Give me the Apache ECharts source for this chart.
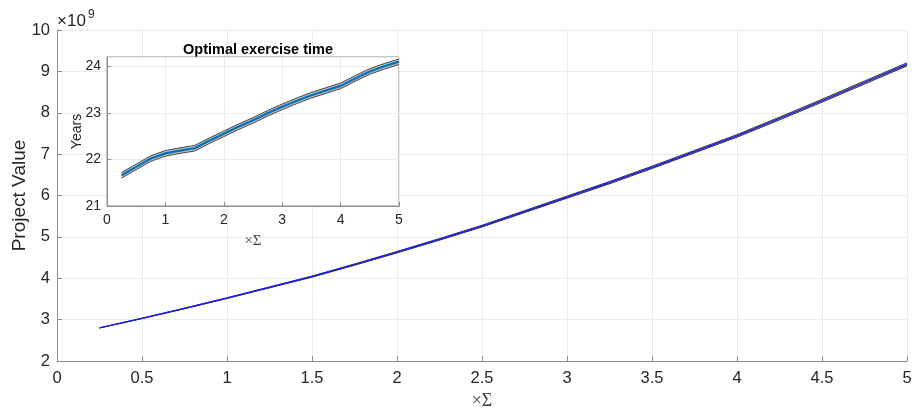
<!DOCTYPE html>
<html>
<head>
<meta charset="utf-8">
<script src="https://cdn.jsdelivr.net/npm/echarts@6/dist/echarts.min.js"></script>
<style>html,body{margin:0;padding:0;background:#fff;}#c{width:914px;height:409px;}</style>
</head>
<body>
<div id="c"></div>
<script>
// ---- data ----
var sigma = [0.25,0.5,0.75,1,1.25,1.5,1.75,2,2.25,2.5,2.75,3,3.25,3.5,3.75,4,4.25,4.5,4.75,5];
// Project value (×10^9)
var valueMean = [2.80,3.03,3.27,3.52,3.78,4.04,4.33,4.63,4.94,5.26,5.61,5.96,6.31,6.68,7.06,7.44,7.86,8.29,8.73,9.17];
var valueHalfBand = [0.004,0.006,0.008,0.010,0.012,0.014,0.016,0.018,0.020,0.022,0.024,0.026,0.028,0.029,0.030,0.032,0.034,0.035,0.037,0.038];
// Optimal exercise time (years)
var timeMean = [21.66,21.84,22.02,22.13,22.19,22.24,22.40,22.55,22.70,22.84,22.99,23.13,23.26,23.38,23.48,23.58,23.74,23.89,24.00,24.10];
var timeHalfBand = [0.06,0.06,0.06,0.06,0.06,0.06,0.06,0.06,0.06,0.06,0.06,0.06,0.06,0.06,0.06,0.06,0.06,0.06,0.06,0.06];
var insetYTicks = [21,22,23,24];

function pairs(xs, ys){ return xs.map(function(x,i){ return [x, ys[i]]; }); }
function shifted(m,h,s){ return m.map(function(v,i){ return v + s*h[i]; }); }

var FONT = 'Liberation Sans, Arial, sans-serif';
var SERIF = 'Liberation Serif, DejaVu Serif, serif';
var AX = '#262626';
var AXLINE = '#8c8c8c';
var GRID = '#ebebeb';

var chart = echarts.init(document.getElementById('c'), null, {renderer:'canvas'});

function bandSeries(xi, yi, m, h, edge, fill, z){
  var upper = shifted(m,h,1), lower = shifted(m,h,-1);
  return [{
    type:'custom', xAxisIndex:xi, yAxisIndex:yi, z:z, silent:true, animation:false,
    data:[[sigma[0], m[0]]],
    renderItem:function(params, api){
      var pts = [];
      for (var i=0;i<sigma.length;i++) pts.push(api.coord([sigma[i], upper[i]]));
      for (var j=sigma.length-1;j>=0;j--) pts.push(api.coord([sigma[j], lower[j]]));
      return {type:'polygon', shape:{points:pts}, style:{fill:fill, stroke:null}};
    }
  },{
    type:'line', xAxisIndex:xi, yAxisIndex:yi, data:pairs(sigma, upper), showSymbol:false, symbol:'none',
    lineStyle:{color:edge, width:1}, z:z, silent:true, animation:false
  },{
    type:'line', xAxisIndex:xi, yAxisIndex:yi, data:pairs(sigma, lower), showSymbol:false, symbol:'none',
    lineStyle:{color:edge, width:1}, z:z, silent:true, animation:false
  }];
}

var series = [];
series = series.concat(bandSeries(0,0,valueMean,valueHalfBand,'#3a3a3a','#9a9a9a',2));
series.push({type:'line', xAxisIndex:0, yAxisIndex:0, data:pairs(sigma,valueMean), showSymbol:false, symbol:'none',
  lineStyle:{color:'#1a1aff', width:1.2}, z:3, animation:false});
series = series.concat(bandSeries(1,1,timeMean,timeHalfBand,'#4a4a4a','#bdbdbd',12));
series.push({type:'line', xAxisIndex:1, yAxisIndex:1, data:pairs(sigma,timeMean), showSymbol:false, symbol:'none',
  lineStyle:{color:'#0072BD', width:2.2}, z:13, animation:false});

var option = {
  animation:false,
  backgroundColor:'#ffffff',
  title:[{
    text:'Optimal exercise time', left:253, top:37, textAlign:'center',
    textStyle:{fontFamily:FONT, fontSize:14.5, fontWeight:'bold', color:'#000'}
  }],
  graphic:[
    {type:'text', left:57, top:13, style:{text:'×10', font:'17px Liberation Sans, Arial, sans-serif', fill:AX}},
    {type:'text', left:88, top:9, style:{text:'9', font:'12px Liberation Sans, Arial, sans-serif', fill:AX}}
  ],
  grid:[
    {left:57, right:7, top:30, bottom:48, show:false, containLabel:false, outerBoundsMode:'none'},
    {left:107, top:57, width:292, height:149, show:true, backgroundColor:'#ffffff', borderColor:AXLINE, borderWidth:1, z:10, containLabel:false, outerBoundsMode:'none'}
  ],
  xAxis:[{
    type:'value', gridIndex:0, min:0, max:5, interval:0.5,
    name:'×Σ', nameLocation:'middle', nameGap:29,
    nameTextStyle:{fontFamily:SERIF, fontSize:18, color:'#404040'},
    axisLine:{show:true, onZero:false, lineStyle:{color:AXLINE, width:1}},
    axisTick:{show:true, inside:true, length:5, lineStyle:{color:AXLINE}},
    axisLabel:{fontFamily:FONT, fontSize:16.5, color:AX, margin:9},
    splitLine:{show:true, lineStyle:{color:GRID, width:1}}
  },{
    type:'value', gridIndex:1, min:0, max:5, interval:1,
    name:'×Σ', nameLocation:'middle', nameGap:28,
    nameTextStyle:{fontFamily:SERIF, fontSize:15, color:'#404040'},
    axisLine:{show:true, onZero:false, lineStyle:{color:AXLINE, width:1}},
    axisTick:{show:true, inside:true, length:4, lineStyle:{color:AXLINE}},
    axisLabel:{fontFamily:FONT, fontSize:14, color:AX, margin:7},
    splitLine:{show:true, lineStyle:{color:GRID, width:1}}, z:11
  }],
  yAxis:[{
    type:'value', gridIndex:0, min:2, max:10, interval:1,
    name:'Project Value', nameLocation:'middle', nameGap:28, nameMoveOverlap:false,
    nameTextStyle:{fontFamily:FONT, fontSize:19, color:AX},
    axisLine:{show:true, onZero:false, lineStyle:{color:AXLINE, width:1}},
    axisTick:{show:true, inside:true, length:5, lineStyle:{color:AXLINE}},
    axisLabel:{fontFamily:FONT, fontSize:16.5, color:AX, margin:7},
    splitLine:{show:true, lineStyle:{color:GRID, width:1}}
  },{
    type:'value', gridIndex:1, min:21, max:24.2, interval:1,
    name:'Years', nameLocation:'middle', nameGap:23, nameMoveOverlap:false,
    nameTextStyle:{fontFamily:FONT, fontSize:14, color:AX},
    axisLine:{show:true, onZero:false, lineStyle:{color:AXLINE, width:1}},
    axisTick:{show:true, inside:true, length:4, lineStyle:{color:AXLINE}},
    axisLabel:{fontFamily:FONT, fontSize:14, color:AX, margin:6, showMaxLabel:false,
      formatter:function(v){ return insetYTicks.indexOf(v) >= 0 ? String(v) : ''; }},
    splitLine:{show:true, lineStyle:{color:GRID, width:1}}, z:11
  }],
  series: series
};
chart.setOption(option);
</script>
</body>
</html>
